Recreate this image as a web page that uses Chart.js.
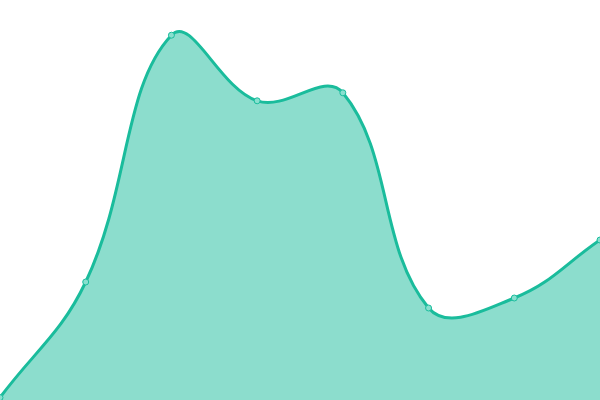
<!DOCTYPE html>
<html lang="en">
<head>
    <meta charset="UTF-8">
    <title>Area chart</title>
    <style>
        html, body { margin: 0; padding: 0; background: #fff; }
        #wrap { width: 600px; height: 400px; }
    </style>
</head>
<body>
    <div id="wrap"><canvas id="myChart"></canvas></div>
    <script src="https://cdn.jsdelivr.net/npm/chart.js@4/dist/chart.umd.min.js"></script>
    <script>
        var labels = ['1', '2', '3', '4', '5', '6', '7', '8'];
        var values = [0.6, 29.5, 91.2, 74.8, 76.8, 23, 25.5, 40];
        var yMin = 0;
        var yMax = 100;

        var ctx = document.getElementById('myChart').getContext('2d');
        var myChart = new Chart(ctx, {
            type: 'line',
            data: {
                labels: labels,
                datasets: [{
                    data: values,
                    fill: true,
                    backgroundColor: 'rgba(26, 188, 156, 0.5)',
                    borderColor: '#1abc9c',
                    borderWidth: 3,
                    tension: 0.4,
                    pointRadius: 3,
                    pointBackgroundColor: '#88e0cf',
                    pointBorderColor: '#1abc9c',
                    pointBorderWidth: 1
                }]
            },
            options: {
                responsive: true,
                maintainAspectRatio: false,
                animation: false,
                layout: { padding: 0, autoPadding: false },
                plugins: { legend: { display: false }, tooltip: { enabled: false } },
                scales: {
                    x: { display: false, offset: false },
                    y: { display: false, min: yMin, max: yMax }
                }
            }
        });
    </script>
</body>
</html>
